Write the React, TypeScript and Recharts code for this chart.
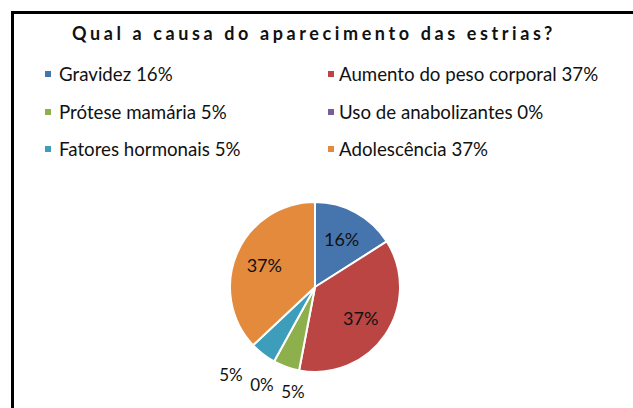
import React from 'react';
import { PieChart, Pie, Cell } from 'recharts';

const categories = ['Gravidez', 'Aumento do peso corporal', 'Prótese mamária', 'Uso de anabolizantes', 'Fatores hormonais', 'Adolescência'];
const percents = [16, 37, 5, 0, 5, 37];
const colors = ['#4675AD', '#BA4543', '#8DB04D', '#7A5E9C', '#3D9DBA', '#E48A3C'];
const title = 'Qual a causa do aparecimento das estrias?';

const data = categories.map((name, i) => ({ name, value: percents[i] }));

const FONT = 'Lato, "DejaVu Sans", sans-serif';
const RAD = Math.PI / 180;
const OUT_R = 85;
const OUT_PAD = 26;
const MIN_GAP = 31;

// small slices get their labels outside; spread them sideways so they don't collide
const total = percents.reduce((a, b) => a + b, 0);
const midAngles: number[] = [];
let acc = 0;
percents.forEach((p) => {
  midAngles.push(90 - (acc + p / 2) / total * 360);
  acc += p;
});
const smallIdx = percents.map((p, i) => i).filter((i) => percents[i] < 10);
const naturalX = smallIdx.map((i) => (OUT_R + OUT_PAD) * Math.cos(-midAngles[i] * RAD));
const order = smallIdx.map((_, k) => k).sort((a, b) => naturalX[a] - naturalX[b]);
const meanX = naturalX.reduce((a, b) => a + b, 0) / naturalX.length;
const shiftX: Record<number, number> = {};
order.forEach((k, pos) => {
  const target = meanX + (pos - (order.length - 1) / 2) * MIN_GAP;
  shiftX[smallIdx[k]] = target - naturalX[k];
});

const renderLabel = (props: any) => {
  const { cx, cy, midAngle, outerRadius, value, index } = props;
  const inside = value >= 10;
  const r = inside ? outerRadius * 0.65 : outerRadius + OUT_PAD;
  const x = cx + r * Math.cos(-midAngle * RAD) + (inside ? 0 : shiftX[index] || 0);
  const y = cy + r * Math.sin(-midAngle * RAD);
  return (
    <text x={x} y={y} textAnchor="middle" dominantBaseline="central" fill="#111" fontSize={inside ? 18 : 17} fontFamily={FONT}>
      {value}%
    </text>
  );
};

export default function App() {
  return (
    <div style={{ position: 'fixed', left: 0, top: 0, width: 633, height: 408, background: '#fff', overflow: 'hidden' }}>
      <div style={{ position: 'absolute', left: 11, top: 11, width: 622, height: 3, background: '#000' }} />
      <div style={{ position: 'absolute', left: 11, top: 11, width: 3, height: 397, background: '#000' }} />
      <div
        style={{
          position: 'absolute',
          left: 0,
          top: 22,
          width: 628,
          textAlign: 'center',
          fontFamily: FONT,
          fontWeight: 'bold',
          fontSize: 18,
          letterSpacing: 3.6,
          color: '#111',
        }}
      >
        {title}
      </div>
      <div style={{ position: 'absolute', left: 0, top: 0 }}>
        <PieChart width={633} height={408}>
          <Pie
            data={data}
            dataKey="value"
            nameKey="name"
            cx={310}
            cy={282}
            outerRadius={OUT_R}
            startAngle={90}
            endAngle={-270}
            stroke="#fff"
            strokeWidth={2}
            label={renderLabel}
            labelLine={false}
            isAnimationActive={false}
          >
            {data.map((d, i) => (
              <Cell key={d.name} fill={colors[i]} />
            ))}
          </Pie>
        </PieChart>
      </div>
      <div style={{ position: 'absolute', left: 45, top: 62, width: 580, height: 120, fontFamily: FONT, fontSize: 18.7, color: '#111' }}>
        {data.map((d, i) => (
          <div
            key={d.name}
            style={{
              position: 'absolute',
              left: i % 2 === 0 ? 0 : 283,
              top: Math.floor(i / 2) * 37.5,
              display: 'flex',
              alignItems: 'center',
              whiteSpace: 'nowrap',
              lineHeight: '24px',
            }}
          >
            <span style={{ display: 'inline-block', width: 6, height: 6, background: colors[i], marginRight: i % 2 === 0 ? 8 : 5 }} />
            {d.name} {d.value}%
          </div>
        ))}
      </div>
    </div>
  );
}
